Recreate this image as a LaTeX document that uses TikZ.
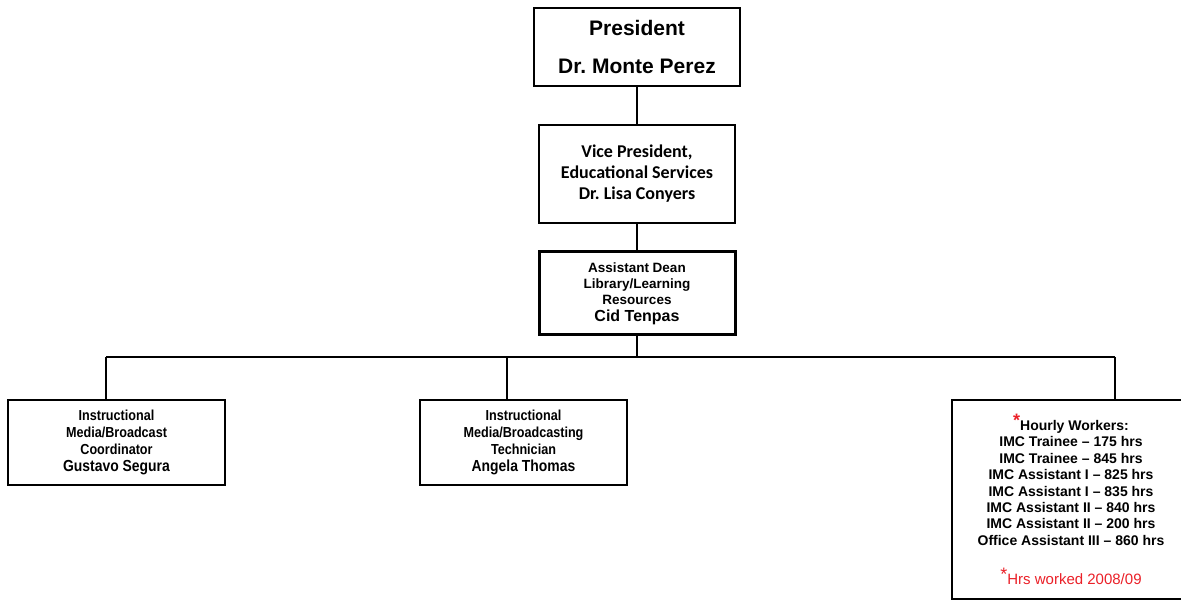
\documentclass[tikz,border=0pt]{standalone}
\usepackage{fontspec}
\setmainfont{Liberation Sans}
\newfontfamily\calfont{Carlito}
\newfontfamily\narrowfont[FakeStretch=0.87]{Liberation Sans}
\definecolor{notered}{RGB}{235,32,40}
\newcommand{\redstar}{{\color{notered}\raisebox{4pt}{\fontsize{18}{18}\selectfont *}}}
\frenchspacing
\begin{document}
\begin{tikzpicture}[x=1pt,y=-1pt,
  box/.style={draw=black, line width=2pt, inner sep=0pt, align=center, fill=white},
  link/.style={draw=black, line width=2pt}]
\useasboundingbox (0,0) rectangle (1181,601);
\fill[white] (0,0) rectangle (1181,601);

% top of the chart
\node[box, minimum width=206, minimum height=78,
      font=\bfseries\fontsize{21}{38}\selectfont] (pres) at (637,47)
  {President\\Dr. Monte Perez};

\node[box, minimum width=196, minimum height=98,
      font=\calfont\bfseries\fontsize{18}{21}\selectfont] (vp) at (637,174)
  {Vice President,\\Educational Services\\Dr. Lisa Conyers};

\node[box, line width=3pt, minimum width=196, minimum height=83,
      font=\bfseries\fontsize{13.5}{16}\selectfont] (ad) at (637,293.5)
  {Assistant Dean\\Library/Learning\\Resources\\[1pt]{\fontsize{16}{16}\selectfont Cid Tenpas}};

% staff row
\node[box, minimum width=217, minimum height=85,
      font=\narrowfont\bfseries\fontsize{14.5}{17}\selectfont] (coord) at (116.5,442.5)
  {Instructional\\Media/Broadcast\\Coordinator\\{\fontsize{16}{17}\selectfont Gustavo Segura}};

\node[box, minimum width=207, minimum height=85,
      font=\narrowfont\bfseries\fontsize{14.5}{17}\selectfont] (tech) at (523.5,442.5)
  {Instructional\\Media/Broadcasting\\Technician\\{\fontsize{16}{17}\selectfont Angela Thomas}};

\node[box, minimum width=238, minimum height=199,
      font=\bfseries\fontsize{14}{16.4}\selectfont] (hw) at (1071,499.5)
  {\redstar Hourly Workers:\\
   IMC Trainee – 175 hrs\\
   IMC Trainee – 845 hrs\\
   IMC Assistant I – 825 hrs\\
   IMC Assistant I – 835 hrs\\
   IMC Assistant II – 840 hrs\\
   IMC Assistant II – 200 hrs\\
   Office Assistant III – 860 hrs\\[22pt]
   {\mdseries\fontsize{15}{16}\selectfont\redstar{\color{notered}Hrs worked 2008/09}}};

% connectors
\coordinate (busL) at (106,357);
\coordinate (busM) at (507,357);
\coordinate (busR) at (1115,357);

\draw[link] (pres.south) -- (vp.north);
\draw[link] (vp.south) -- (ad.north);
\draw[link] (ad.south) -- (ad.south |- busL);
\draw[link] (busL) -- (busR);
\draw[link] (busL) -- (coord.north -| busL);
\draw[link] (busM) -- (tech.north -| busM);
\draw[link] (busR) -- (hw.north -| busR);
\end{tikzpicture}
\end{document}
